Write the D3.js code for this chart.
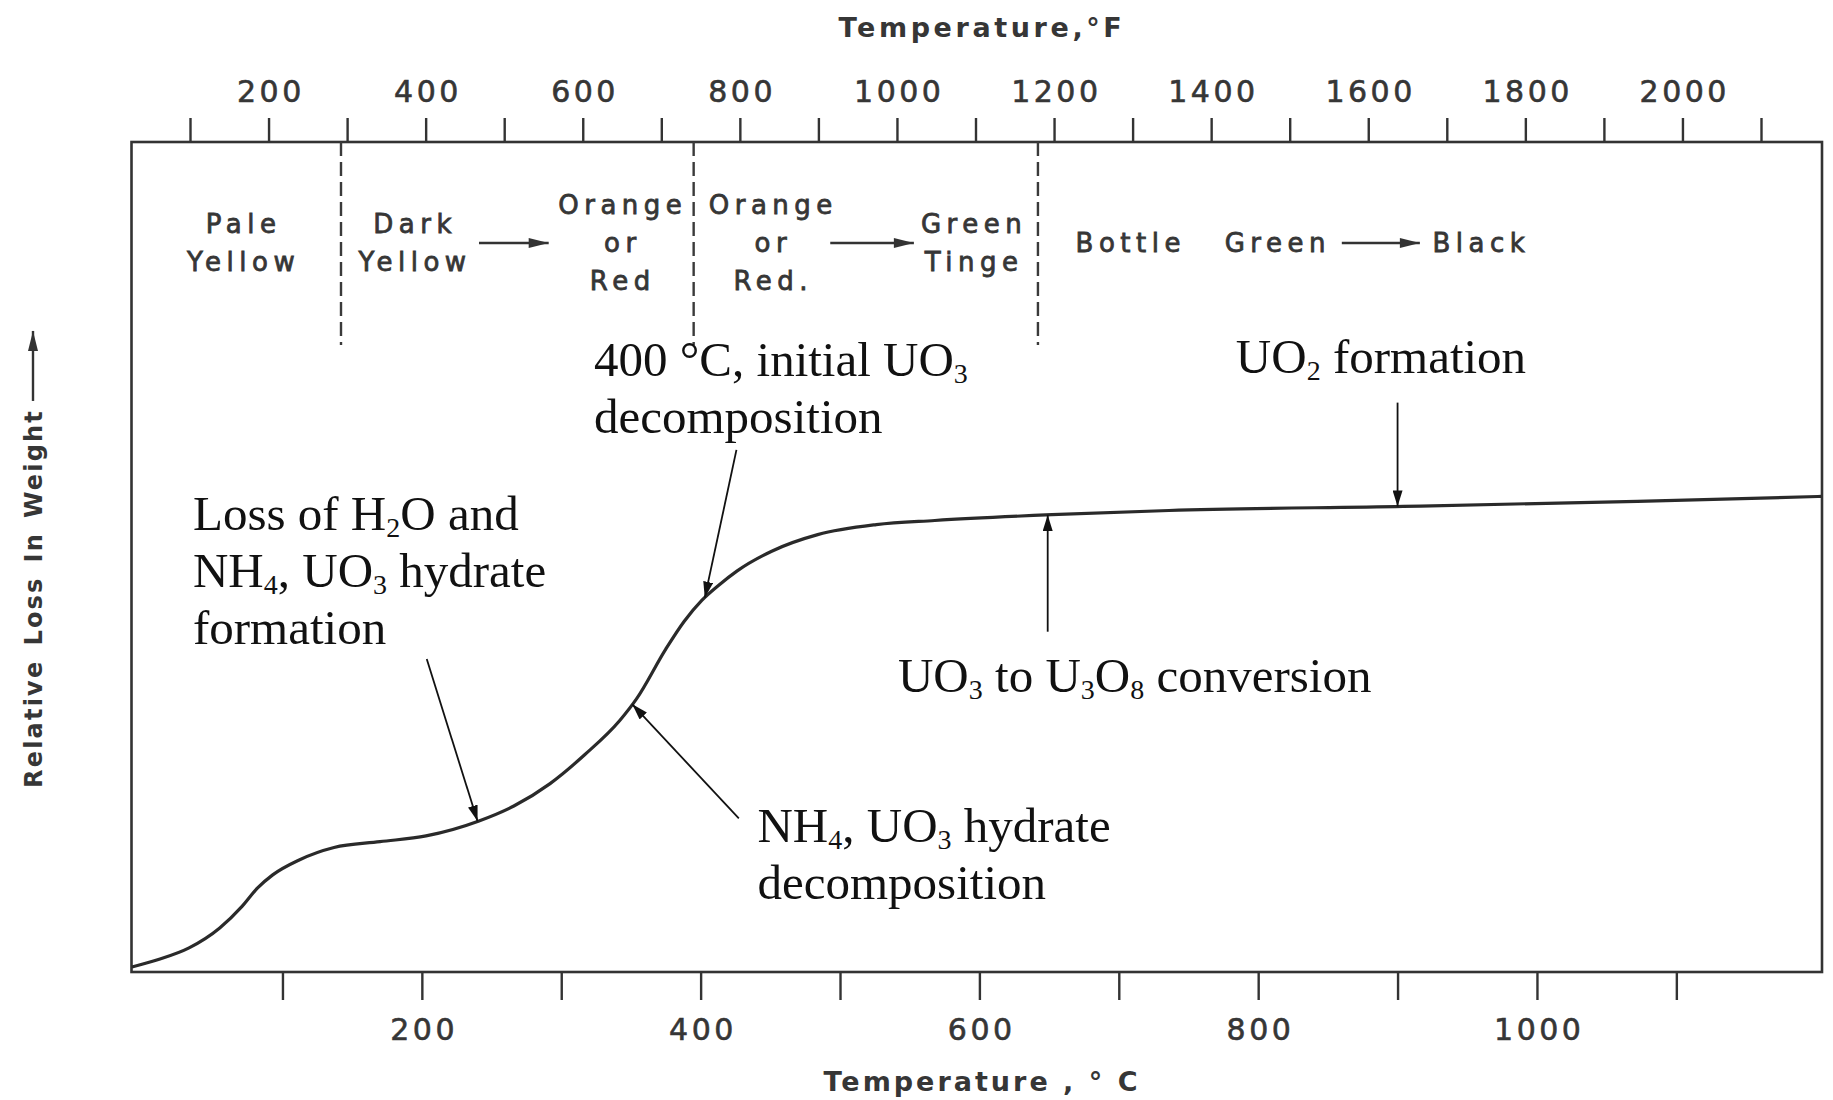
<!DOCTYPE html>
<html>
<head>
<meta charset="utf-8">
<script src="https://cdn.jsdelivr.net/npm/d3@7"></script>
<style>
  body { margin: 0; background: #fff; }
  .letter { font-family: "DejaVu Sans", sans-serif; fill: #363636; }
  .note { font-family: "Liberation Serif", "Times New Roman", serif; font-size: 49px; fill: #111; }
</style>
</head>
<body>
<div id="chart"></div>
<script>
const width = 1833;
const height = 1100;

// weight-loss curve: temperature in °C, relative loss (arbitrary 0-100)
const tempC = [-8, 11, 33, 55, 71, 82, 93, 112, 137, 170, 203, 241, 266, 292, 317, 342, 354, 375, 388, 401, 413, 426, 451, 484, 526, 568, 652, 736, 904, 1072, 1204];
const lossRel = [0.6, 1.5, 2.9, 5.3, 7.9, 10.1, 11.7, 13.5, 15.0, 15.7, 16.4, 18.2, 20.0, 22.7, 26.2, 30.3, 32.9, 38.9, 42.2, 44.8, 46.6, 48.3, 50.7, 52.7, 53.9, 54.4, 55.1, 55.6, 56.1, 56.7, 57.3];

const ticksC = d3.range(100, 1200, 100);
const labelsC = [200, 400, 600, 800, 1000];
const ticksF = d3.range(100, 2200, 100);
const labelsF = [200, 400, 600, 800, 1000, 1200, 1400, 1600, 1800, 2000];

// colour zones, dashed boundaries in °C
const zoneBounds = [142, 395, 642];
const zoneLabels = [
  { t: 70, lines: ["Pale", "Yellow"] },
  { t: 193, lines: ["Dark", "Yellow"] },
  { t: 342, lines: ["Orange", "or", "Red"] },
  { t: 450, lines: ["Orange", "or", "Red."] },
  { t: 594, lines: ["Green", "Tinge"] }
];
const zoneArrows = [[241, 291], [493, 553], [860, 916]];
const lastZone = [{ t: 669, text: "Bottle" }, { t: 776, text: "Green" }, { t: 925, text: "Black" }];

// annotations: text anchor (°C, loss), arrow tail (°C, loss), arrow tip on the curve (°C)
const notes = [
  { lines: ["400 °C, initial UO_3", "decomposition"], t: 323.5, v: 71.8, tail: [425.7, 62.9], tip: 403 },
  { lines: ["UO_2 formation"], t: 784, v: 72.2, tail: [900, 68.6], tip: 900 },
  { lines: ["Loss of H_2O and", "NH_4, UO_3 hydrate", "formation"], t: 35.8, v: 53.3, tail: [203.5, 37.7], tip: 240 },
  { lines: ["UO_3 to U_3O_8 conversion"], t: 541.6, v: 33.7, tail: [649, 41.0], tip: 649 },
  { lines: ["NH_4, UO_3 hydrate", "decomposition"], t: 440.8, v: 15.7, tail: [427.4, 18.5], tip: 351 }
];

const svg = d3.select("#chart")
  .append("svg")
  .attr("width", width)
  .attr("height", height);

const x = d3.scaleLinear().domain([-8.3, 1204.5]).range([131.5, 1822]);
const xF = d3.scaleLinear().domain([100, 2100]).range([190, 1761]);
const y = d3.scaleLinear().domain([0, 100]).range([972, 142]);

const defs = svg.append("defs");
defs.append("marker")
  .attr("id", "head")
  .attr("viewBox", "0 0 16 10")
  .attr("refX", 16).attr("refY", 5)
  .attr("markerWidth", 16).attr("markerHeight", 10)
  .attr("markerUnits", "userSpaceOnUse")
  .attr("orient", "auto")
  .append("path").attr("d", "M0,0L16,5L0,10z").attr("fill", "#111");
defs.append("marker")
  .attr("id", "bighead")
  .attr("viewBox", "0 0 20 10")
  .attr("refX", 20).attr("refY", 5)
  .attr("markerWidth", 22).attr("markerHeight", 10)
  .attr("markerUnits", "userSpaceOnUse")
  .attr("orient", "auto")
  .append("path").attr("d", "M0,0L20,5L0,10z").attr("fill", "#333");

// frame
svg.append("rect")
  .attr("x", x.range()[0]).attr("y", y.range()[1])
  .attr("width", x.range()[1] - x.range()[0])
  .attr("height", y.range()[0] - y.range()[1])
  .attr("fill", "none")
  .attr("stroke", "#333")
  .attr("stroke-width", 2.6);

// bottom axis (°C)
const axB = svg.append("g")
  .attr("transform", `translate(0,${y.range()[0]})`)
  .call(d3.axisBottom(x).tickValues(ticksC).tickSize(28).tickPadding(19)
    .tickFormat(d => labelsC.includes(d) ? d : ""));
// top axis (°F)
const axT = svg.append("g")
  .attr("transform", `translate(0,${y.range()[1]})`)
  .call(d3.axisTop(xF).tickValues(ticksF).tickSize(24).tickPadding(16)
    .tickFormat(d => labelsF.includes(d) ? d : ""));

[axB, axT].forEach(g => {
  g.select(".domain").remove();
  g.selectAll(".tick line").attr("stroke", "#333").attr("stroke-width", 2.4);
  g.selectAll(".tick text")
    .attr("class", "letter")
    .attr("font-size", 30)
    .attr("letter-spacing", 3.5)
    .attr("stroke", "#363636").attr("stroke-width", 0.6)
    .attr("dx", 1.8);
});

// axis titles
svg.append("text").attr("class", "letter")
  .attr("x", 982).attr("y", 37)
  .attr("text-anchor", "middle")
  .attr("font-size", 27).attr("font-weight", "bold").attr("letter-spacing", 3.6)
  .text("Temperature,°F");
svg.append("text").attr("class", "letter")
  .attr("x", 982).attr("y", 1091)
  .attr("text-anchor", "middle")
  .attr("font-size", 27).attr("font-weight", "bold").attr("letter-spacing", 3)
  .text("Temperature , ° C");

// y title with arrow
const yt = svg.append("g").attr("transform", "translate(42,788) rotate(-90)");
const ytText = yt.append("text").attr("class", "letter")
  .attr("font-size", 24).attr("font-weight", "bold").attr("letter-spacing", 2.2);
const ytGap = 14;
["Relative", "Loss", "In", "Weight"].forEach((w, i) => {
  ytText.append("tspan").attr("dx", i ? ytGap : 0).text(w);
});
const ytLen = ytText.node().getComputedTextLength() + ytGap * 3;
yt.append("line")
  .attr("x1", ytLen + 8).attr("x2", ytLen + 78)
  .attr("y1", -9).attr("y2", -9)
  .attr("stroke", "#333").attr("stroke-width", 2.4)
  .attr("marker-end", "url(#bighead)");

// dashed zone boundaries
svg.selectAll(".zone")
  .data(zoneBounds)
  .enter()
  .append("line")
  .attr("x1", d => x(d)).attr("x2", d => x(d))
  .attr("y1", y.range()[1]).attr("y2", 345)
  .attr("stroke", "#3a3a3a")
  .attr("stroke-width", 2.4)
  .attr("stroke-dasharray", "14,6");

// zone colour labels
const midBase = 252, lineStep = 38;
zoneLabels.forEach(z => {
  const n = z.lines.length;
  z.lines.forEach((s, i) => {
    svg.append("text").attr("class", "letter")
      .attr("x", x(z.t) + 3).attr("y", midBase - (n - 1) * lineStep / 2 + i * lineStep)
      .attr("text-anchor", "middle")
      .attr("font-size", 26).attr("letter-spacing", 5.5)
      .attr("stroke", "#363636").attr("stroke-width", 0.8)
      .text(s);
  });
});
lastZone.forEach(z => {
  svg.append("text").attr("class", "letter")
    .attr("x", x(z.t)).attr("y", midBase)
    .attr("font-size", 26).attr("letter-spacing", 5.5)
    .attr("stroke", "#363636").attr("stroke-width", 0.8)
    .text(z.text);
});
svg.selectAll(".zarrow")
  .data(zoneArrows)
  .enter()
  .append("line")
  .attr("x1", d => x(d[0])).attr("x2", d => x(d[1]))
  .attr("y1", midBase - 9).attr("y2", midBase - 9)
  .attr("stroke", "#333").attr("stroke-width", 2.4)
  .attr("marker-end", "url(#bighead)");

// curve
const line = d3.line()
  .x(d => x(d[0]))
  .y(d => y(d[1]))
  .curve(d3.curveMonotoneX);
svg.append("path")
  .datum(d3.zip(tempC, lossRel))
  .attr("d", line)
  .attr("fill", "none")
  .attr("stroke", "#2a2a2a")
  .attr("stroke-width", 3.2);

function lossAt(t) {
  const i = Math.max(1, d3.bisectLeft(tempC, t));
  const k = (t - tempC[i - 1]) / (tempC[i] - tempC[i - 1]);
  return lossRel[i - 1] + k * (lossRel[i] - lossRel[i - 1]);
}

function richLine(sel, str) {
  const parts = str.split(/_(\d)/);
  let down = false;
  parts.forEach((p, i) => {
    if (!p) return;
    const ts = sel.append("tspan").text(p);
    if (i % 2 === 1) {
      ts.attr("font-size", 28);
      if (!down) { ts.attr("dy", 7); down = true; }
    } else if (down) {
      ts.attr("dy", -7);
      down = false;
    }
  });
}

// annotations
const noteStep = 57;
notes.forEach(nt => {
  nt.lines.forEach((s, i) => {
    const t = svg.append("text").attr("class", "note")
      .attr("x", x(nt.t)).attr("y", y(nt.v) + i * noteStep);
    richLine(t, s);
  });
  svg.append("line")
    .attr("x1", x(nt.tail[0])).attr("y1", y(nt.tail[1]))
    .attr("x2", x(nt.tip)).attr("y2", y(lossAt(nt.tip)))
    .attr("stroke", "#111").attr("stroke-width", 1.8)
    .attr("marker-end", "url(#head)");
});
</script>
</body>
</html>
